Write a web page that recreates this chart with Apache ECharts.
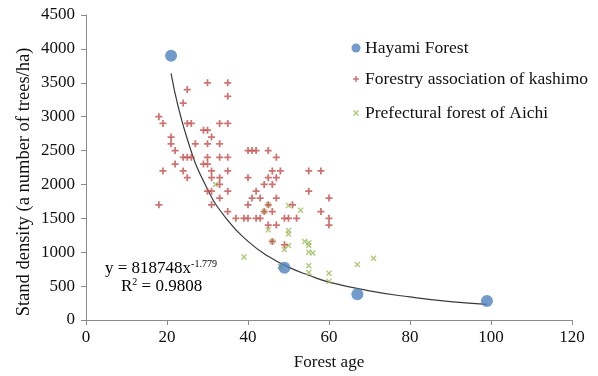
<!DOCTYPE html>
<html><head><meta charset="utf-8">
<script src="https://cdn.jsdelivr.net/npm/echarts@6/dist/echarts.min.js"></script>
<style>html,body{margin:0;padding:0;background:#fff}#c{width:598px;height:376px}</style>
</head><body><div id="c"></div>
<script>
// Data
const hayamiAge = [21, 49, 67, 99];
const hayamiDensity = [3900, 770, 380, 280];

const kashimo = [
  [30,3500],[35,3500],[25,3400],[35,3300],[24,3200],[18,3000],
  [19,2900],[25,2900],[26,2900],[33,2900],[35,2900],
  [29,2800],[30,2800],[21,2700],[31,2700],
  [21,2600],[27,2600],[30,2600],[33,2600],
  [22,2500],[40,2500],[41,2500],[42,2500],[45,2500],
  [24,2400],[25,2400],[26,2400],[30,2400],[33,2400],[35,2400],[47,2400],
  [22,2300],[29,2300],[30,2300],
  [19,2200],[24,2200],[31,2200],[35,2200],[46,2200],[48,2200],[55,2200],[58,2200],
  [25,2100],[31,2100],[33,2100],[40,2100],[45,2100],[47,2100],
  [33,2000],[44,2000],[46,2000],
  [30,1900],[31,1900],[35,1900],[42,1900],[55,1900],
  [33,1800],[41,1800],[43,1800],[47,1800],[60,1800],
  [18,1700],[31,1700],[40,1700],[45,1700],[51,1700],
  [35,1600],[44,1600],[46,1600],[58,1600],
  [37,1500],[39,1500],[40,1500],[42,1500],[43,1500],[49,1500],[50,1500],[52,1500],[60,1500],
  [45,1400],[47,1400],[60,1400],
  [49,1110],[46,1160]
];

const aichi = [
  [32,2000],[45,1700],[44,1600],[50,1690],[53,1620],[45,1330],[50,1320],[50,1270],
  [46,1160],[54,1160],[55,1140],[55,1100],[50,1100],[49,1040],[55,1000],[56,990],
  [39,930],[48,790],[55,800],[55,700],[60,690],[60,570],[67,820],[71,910]
];

const trendAge = [21, 25, 30, 35, 40, 45, 50, 55, 60, 70, 80, 90, 99];
const trendDensity = [3640, 2670, 1930, 1470, 1160, 940, 780, 660, 560, 430, 340, 270, 230];

const FONT = "'Liberation Serif', 'Times New Roman', serif";
const plusPath = 'path://M3,0H5V3H8V5H5V8H3V5H0V3H3Z';
const crossPath = 'path://M0,1.3L1.3,0L4,2.7L6.7,0L8,1.3L5.3,4L8,6.7L6.7,8L4,5.3L1.3,8L0,6.7L2.7,4Z';

const chart = echarts.init(document.getElementById('c'), null, {renderer: 'canvas'});

const legendBase = (name, centerY, size) => ({
  data: [name],
  orient: 'vertical',
  left: 356 - size / 2,
  top: centerY - 10,
  itemWidth: size,
  itemHeight: size,
  padding: 0,
  selectedMode: false,
  textStyle: {fontFamily: FONT, fontSize: 17.5, color: '#111', lineHeight: 20,
              padding: [0, 0, 0, 4 - size / 2]}
});

chart.setOption({
  animation: false,
  backgroundColor: '#fff',
  grid: {left: 86, right: 26, top: 15, bottom: 49},
  xAxis: {
    type: 'value', min: 0, max: 120, interval: 20,
    name: 'Forest age', nameLocation: 'middle', nameGap: 34,
    nameTextStyle: {fontFamily: FONT, fontSize: 17, color: '#111'},
    axisLine: {show: true, lineStyle: {color: '#8a8a8a'}},
    axisTick: {show: true, length: 5, lineStyle: {color: '#8a8a8a'}},
    axisLabel: {fontFamily: FONT, fontSize: 17, color: '#111', margin: 9},
    splitLine: {show: false}
  },
  yAxis: {
    type: 'value', min: 0, max: 4500, interval: 500,
    axisLine: {show: true, lineStyle: {color: '#8a8a8a'}},
    axisTick: {show: true, length: 5, lineStyle: {color: '#8a8a8a'}},
    axisLabel: {fontFamily: FONT, fontSize: 17, color: '#111', margin: 11,
                formatter: v => String(v)},
    splitLine: {show: false}
  },
  legend: [
    legendBase('Hayami Forest', 48, 9),
    legendBase('Forestry association of kashimo', 79, 6),
    legendBase('Prefectural forest of Aichi', 113, 6)
  ],
  graphic: [
    {type: 'text', x: 24, y: 182, rotation: Math.PI / 2, silent: true,
     style: {text: 'Stand density (a number of trees/ha)', fontFamily: FONT, fontSize: 18.5,
             fill: '#111', align: 'center', verticalAlign: 'middle'}},
    {type: 'text', left: 105, top: 259, silent: true,
     style: {text: '{m|y = 818748x}{s|-1.779}', rich: {
       m: {fontFamily: FONT, fontSize: 17, color: '#111', lineHeight: 19},
       s: {fontFamily: FONT, fontSize: 10, color: '#111', verticalAlign: 'top', lineHeight: 12}
     }}},
    {type: 'text', left: 121, top: 277, silent: true,
     style: {text: '{m|R}{s|2}{m| = 0.9808}', rich: {
       m: {fontFamily: FONT, fontSize: 17, color: '#111', lineHeight: 19},
       s: {fontFamily: FONT, fontSize: 10, color: '#111', verticalAlign: 'top', lineHeight: 12}
     }}}
  ],
  series: [
    {
      name: 'Trend', type: 'line', smooth: true, showSymbol: false, silent: true,
      data: trendAge.map((a, i) => [a, trendDensity[i]]),
      lineStyle: {color: '#3a3a3a', width: 1.2}, z: 1
    },
    {
      name: 'Hayami Forest', type: 'scatter', symbol: 'circle', symbolSize: 12,
      data: hayamiAge.map((a, i) => [a, hayamiDensity[i]]),
      itemStyle: {color: '#4F81BD'}, z: 4
    },
    {
      name: 'Forestry association of kashimo', type: 'scatter', symbol: plusPath, symbolSize: 7,
      data: kashimo, itemStyle: {color: '#C0504D'}, z: 3
    },
    {
      name: 'Prefectural forest of Aichi', type: 'scatter', symbol: crossPath, symbolSize: 6,
      data: aichi, itemStyle: {color: '#9BBB59'}, z: 2
    }
  ]
});
</script>
</body></html>
